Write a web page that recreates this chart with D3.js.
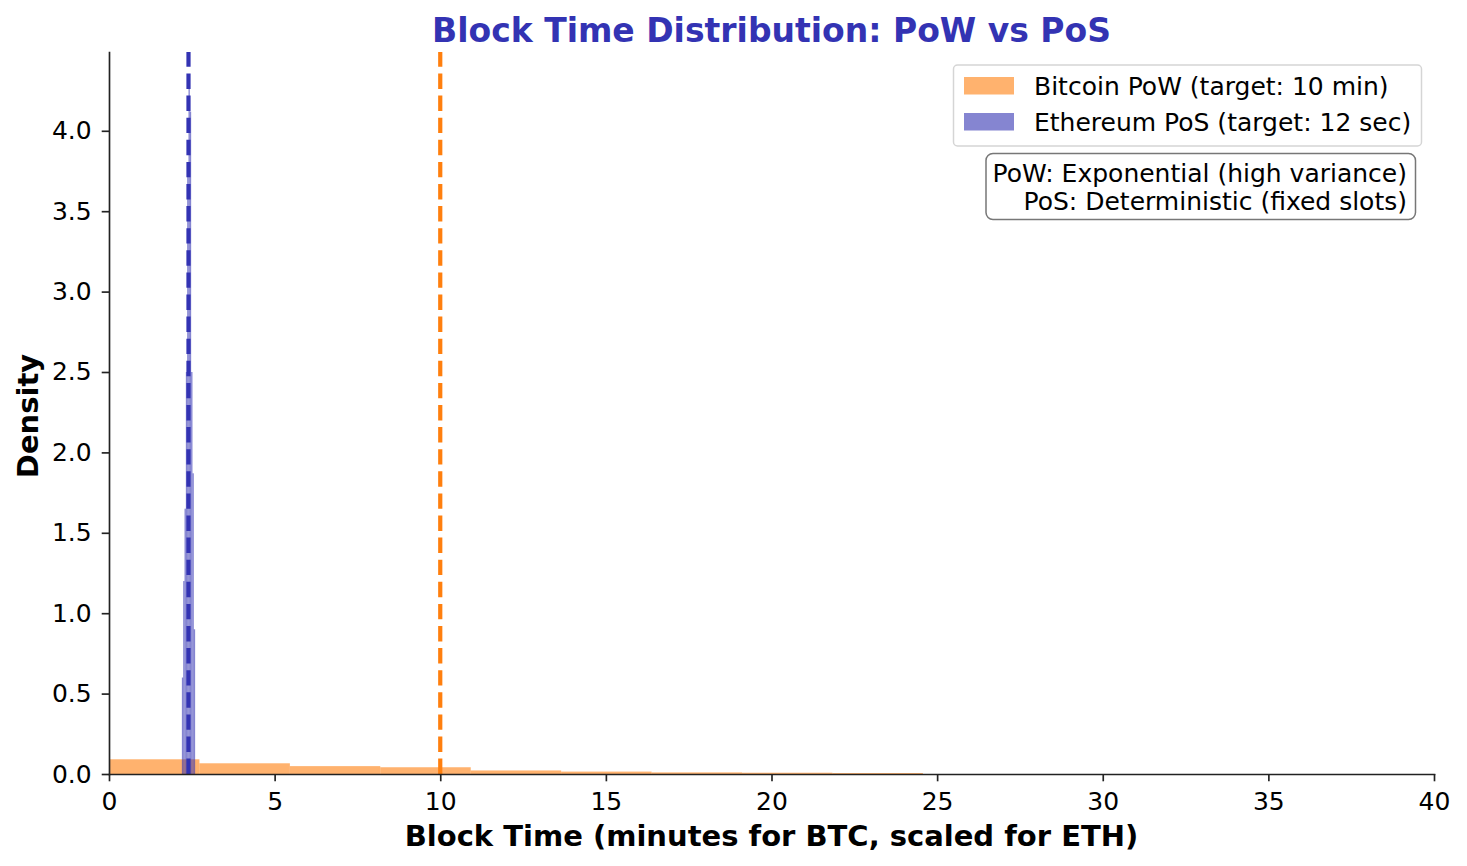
<!DOCTYPE html>
<html>
<head>
<meta charset="utf-8">
<script src="https://cdn.jsdelivr.net/npm/d3@7"></script>
<style>
  body { margin: 0; background: #fff; }
  text { font-family: "DejaVu Sans", sans-serif; }
  .axis path, .axis line { stroke: #222; stroke-width: 1.67; }
  .axis text { font-size: 25px; fill: #000; }
</style>
</head>
<body>
<svg width="1467" height="866"></svg>
<script>
// Bitcoin PoW histogram (bin edges in minutes, density per bin)
var btcEdges = [0, 2.73, 5.46, 8.19, 10.92, 13.65, 16.38, 19.11, 21.84, 24.57];
var btcDensity = [0.0915, 0.0666, 0.049, 0.042, 0.022, 0.015, 0.010, 0.008, 0.006];

// Ethereum PoS histogram (scaled block times)
var ethEdges = [2.20, 2.24, 2.28, 2.32, 2.36, 2.40, 2.44, 2.48, 2.52, 2.56, 2.60];
var ethDensity = [0.6, 1.2, 1.65, 2.5, 3.8, 4.28, 4.12, 2.5, 1.87, 0.9];

var btcTarget = 10, ethTarget = 2.4;
var xTicks = [0, 5, 10, 15, 20, 25, 30, 35, 40];
var yTicks = [0, 0.5, 1, 1.5, 2, 2.5, 3, 3.5, 4];

var svg = d3.select("svg"),
    margin = {top: 52, right: 33, bottom: 92, left: 109},
    width = +svg.attr("width") - margin.left - margin.right,
    height = +svg.attr("height") - margin.top - margin.bottom,
    g = svg.append("g").attr("transform", "translate(" + margin.left + "," + margin.top + ")");

var x = d3.scaleLinear().domain([0, 40]).range([0, width]);
var y = d3.scaleLinear().domain([0, 4.49]).range([height, 0]);

function bins(edges, dens) {
  return dens.map(function(d, i) { return {x0: edges[i], x1: edges[i + 1], v: d}; });
}

g.append("g").selectAll("rect")
  .data(bins(btcEdges, btcDensity))
  .enter().append("rect")
    .attr("x", function(d) { return x(d.x0); })
    .attr("width", function(d) { return x(d.x1) - x(d.x0); })
    .attr("y", function(d) { return y(d.v); })
    .attr("height", function(d) { return y(0) - y(d.v); })
    .attr("fill", "#ff7f0e")
    .attr("fill-opacity", 0.6);

g.append("g").selectAll("rect")
  .data(bins(ethEdges, ethDensity))
  .enter().append("rect")
    .attr("x", function(d) { return x(d.x0); })
    .attr("width", function(d) { return x(d.x1) - x(d.x0); })
    .attr("y", function(d) { return y(d.v); })
    .attr("height", function(d) { return y(0) - y(d.v); })
    .attr("fill", "#3333b3")
    .attr("fill-opacity", 0.6);

// target lines, drawn bottom to top so dashes start at the axis
[[btcTarget, "#ff7f0e"], [ethTarget, "#3333b3"]].forEach(function(t) {
  g.append("line")
    .attr("x1", x(t[0])).attr("x2", x(t[0]))
    .attr("y1", height).attr("y2", 0)
    .attr("stroke", t[1])
    .attr("stroke-width", 4.2)
    .attr("stroke-dasharray", "15.4 6.7");
});

g.append("g")
  .attr("class", "axis")
  .attr("transform", "translate(0," + height + ")")
  .call(d3.axisBottom(x).tickValues(xTicks).tickSize(7.3).tickPadding(11).tickSizeOuter(0).tickFormat(d3.format("d")));

g.append("g")
  .attr("class", "axis")
  .call(d3.axisLeft(y).tickValues(yTicks).tickSize(7.3).tickPadding(10).tickSizeOuter(0).tickFormat(d3.format(".1f")));

svg.selectAll(".axis .domain").attr("stroke-linecap", "square");

// labels
svg.append("text")
  .attr("x", margin.left + width / 2).attr("y", 42)
  .attr("text-anchor", "middle")
  .style("font-size", "33px").style("font-weight", "bold")
  .attr("fill", "#3333b3")
  .text("Block Time Distribution: PoW vs PoS");

svg.append("text")
  .attr("x", margin.left + width / 2).attr("y", 846)
  .attr("text-anchor", "middle")
  .style("font-size", "29px").style("font-weight", "bold")
  .text("Block Time (minutes for BTC, scaled for ETH)");

svg.append("text")
  .attr("transform", "translate(38," + (margin.top + height / 2 + 3) + ") rotate(-90)")
  .attr("text-anchor", "middle")
  .style("font-size", "29px").style("font-weight", "bold")
  .text("Density");

// legend
var legend = svg.append("g");
legend.append("rect")
  .attr("x", 953.5).attr("y", 65).attr("width", 468).attr("height", 81)
  .attr("rx", 4).attr("fill", "#fff").attr("fill-opacity", 0.8)
  .attr("stroke", "#d5d5d5").attr("stroke-width", 1.5);
var legendItems = [["Bitcoin PoW (target: 10 min)", "#ff7f0e"], ["Ethereum PoS (target: 12 sec)", "#3333b3"]];
legendItems.forEach(function(l, i) {
  legend.append("rect")
    .attr("x", 964).attr("y", 77 + i * 36).attr("width", 50).attr("height", 17.5)
    .attr("fill", l[1]).attr("fill-opacity", 0.6);
  legend.append("text")
    .attr("x", 1034).attr("y", 95 + i * 36)
    .style("font-size", "25px")
    .text(l[0]);
});

// annotation box
var note = svg.append("g");
note.append("rect")
  .attr("x", 986).attr("y", 153.5).attr("width", 429.5).attr("height", 66)
  .attr("rx", 7).attr("fill", "#fff")
  .attr("stroke", "#777").attr("stroke-width", 1.5);
["PoW: Exponential (high variance)", "PoS: Deterministic (fixed slots)"].forEach(function(s, i) {
  note.append("text")
    .attr("x", 1407).attr("y", 181.5 + i * 28)
    .attr("text-anchor", "end")
    .style("font-size", "25px")
    .text(s);
});
</script>
</body>
</html>
